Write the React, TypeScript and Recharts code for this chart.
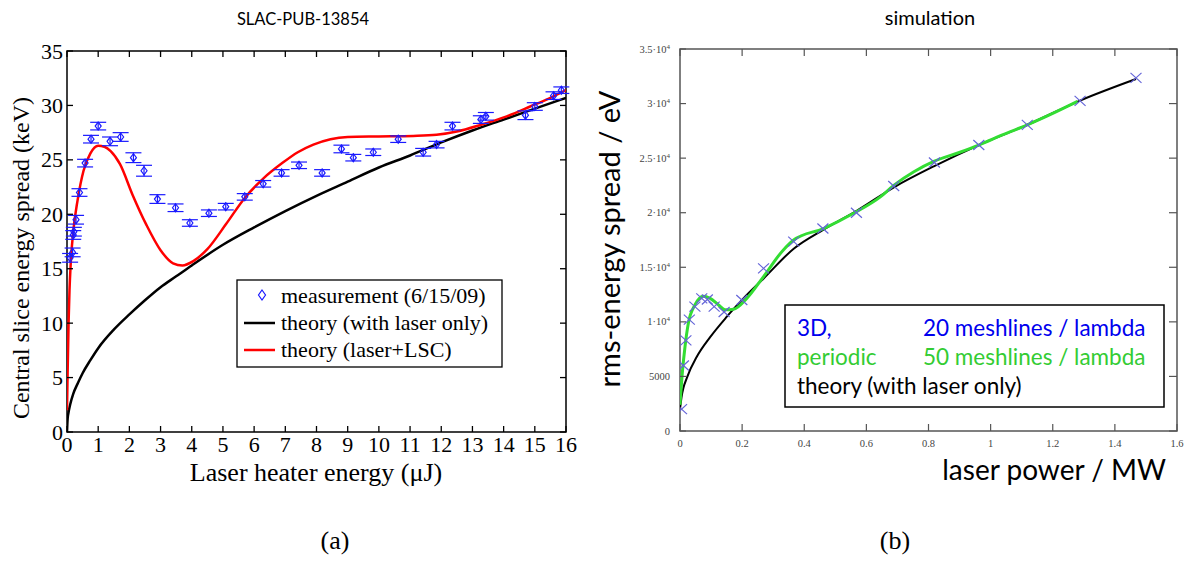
import React from 'react';
import { ComposedChart, Line, Scatter, ErrorBar, XAxis, YAxis, ReferenceArea } from 'recharts';

// ---- (a) SLAC-PUB-13854: measured slice energy spread vs laser heater energy
const measureX = [0.1, 0.18, 0.2, 0.22, 0.29, 0.4, 0.58, 0.77, 1.0, 1.38, 1.72, 2.13, 2.47, 2.9, 3.48, 3.94, 4.55, 5.09, 5.7, 6.29, 6.88, 7.44, 8.18, 8.8, 9.18, 9.82, 10.62, 11.42, 11.85, 12.36, 13.27, 13.43, 14.7, 15.0, 15.6, 15.85];
const measureY = [16.0, 16.5, 18.1, 18.4, 19.5, 22.0, 24.7, 26.9, 28.1, 26.7, 27.1, 25.2, 24.0, 21.4, 20.6, 19.2, 20.1, 20.7, 21.6, 22.8, 23.8, 24.5, 23.8, 26.0, 25.2, 25.7, 26.9, 25.7, 26.4, 28.1, 28.7, 29.0, 29.1, 29.9, 30.9, 31.4];
const measureErr = [0.4, 0.4, 0.4, 0.4, 0.4, 0.35, 0.35, 0.35, 0.35, 0.4, 0.4, 0.45, 0.5, 0.4, 0.35, 0.3, 0.3, 0.3, 0.3, 0.3, 0.3, 0.3, 0.3, 0.35, 0.3, 0.3, 0.3, 0.35, 0.3, 0.35, 0.35, 0.35, 0.4, 0.35, 0.35, 0.3];

const laserOnlyX = [0, 0.02, 0.05, 0.1, 0.2, 0.35, 0.5, 0.75, 1, 1.5, 2, 2.5, 3, 3.5, 4, 5, 6, 7, 8, 9, 10, 11, 12, 13, 14, 15, 16];
const laserOnlyY = [0, 1.2, 1.8, 2.5, 3.5, 4.5, 5.4, 6.6, 7.7, 9.4, 10.8, 12.1, 13.3, 14.3, 15.3, 17.2, 18.8, 20.3, 21.7, 23.0, 24.3, 25.4, 26.6, 27.7, 28.7, 29.7, 30.7];

const lscX = [0, 0.02, 0.05, 0.08, 0.12, 0.2, 0.34, 0.53, 0.75, 1.0, 1.2, 1.4, 1.7, 2.1, 2.55, 3.0, 3.4, 3.7, 4.05, 4.5, 5.1, 5.7, 6.3, 6.9, 7.4, 7.9, 8.45, 9.0, 10.0, 11.1, 11.85, 12.5, 13.25, 14.1, 14.85, 15.5, 16];
const lscY = [2.0, 5.5, 10.0, 13.0, 15.5, 18.4, 21.3, 24.0, 25.6, 26.3, 26.2, 25.8, 24.6, 21.8, 19.0, 16.7, 15.5, 15.3, 15.7, 16.8, 19.1, 21.5, 23.3, 24.7, 25.7, 26.4, 26.9, 27.1, 27.15, 27.2, 27.3, 27.6, 28.2, 29.0, 29.9, 30.7, 31.4];

const energyTicks = [0, 1, 2, 3, 4, 5, 6, 7, 8, 9, 10, 11, 12, 13, 14, 15, 16];
const spreadTicks = [0, 5, 10, 15, 20, 25, 30, 35];

// ---- (b) simulation: rms energy spread vs laser power
const mesh20X = [0.005, 0.011, 0.019, 0.03, 0.048, 0.07, 0.088, 0.11, 0.142, 0.199, 0.269, 0.366, 0.46, 0.568, 0.688, 0.819, 0.962, 1.118, 1.288, 1.468];
const mesh20Y = [2000, 6000, 8300, 10200, 11400, 12150, 12050, 11400, 10900, 12000, 14900, 17350, 18550, 20000, 22450, 24600, 26200, 28050, 30250, 32350];

const mesh50X = [0, 0.008, 0.016, 0.027, 0.048, 0.075, 0.097, 0.124, 0.145, 0.172, 0.215, 0.269, 0.33, 0.366, 0.462, 0.559, 0.645, 0.688, 0.753, 0.817, 0.892, 0.962, 1.04, 1.118, 1.2, 1.28];
const mesh50Y = [2400, 5500, 7700, 9900, 11550, 12350, 12150, 11550, 11100, 11150, 12150, 14150, 16500, 17500, 18550, 19950, 21450, 22500, 23750, 24700, 25450, 26200, 27150, 28050, 29100, 30200];

const theoryX = [0, 0.005, 0.024, 0.054, 0.097, 0.15, 0.204, 0.27, 0.366, 0.462, 0.57, 0.69, 0.817, 0.962, 1.118, 1.29, 1.468];
const theoryY = [2000, 3100, 5000, 6800, 8600, 10450, 12150, 14000, 16700, 18450, 20200, 22350, 24250, 26200, 28050, 30300, 32250];

const powerTicks = [0, 0.2, 0.4, 0.6, 0.8, 1, 1.2, 1.4, 1.6];
const rmsTicks = [0, 5000, 10000, 15000, 20000, 25000, 30000, 35000];

const zip = (xs: number[], ys: number[], es?: number[]) =>
  xs.map((x, i) => ({ x, y: ys[i], err: es ? es[i] : 0 }));

const SERIF = '"Liberation Serif", "Times New Roman", serif';
const SANS = 'Lato, "Open Sans", sans-serif';

// plot boxes
const A_PW = 499;
const A_PH = 381;
const B_PW = 497;
const B_PH = 382;

const energyTick = ({ x, y, payload }: any) => (
  <g>
    <line x1={x} y1={y} x2={x} y2={y - 6} stroke="#000" strokeWidth={1.3} />
    <line x1={x} y1={y - A_PH} x2={x} y2={y - A_PH + 6} stroke="#000" strokeWidth={1.3} />
    <text x={x} y={y + 20} textAnchor="middle" fontFamily={SERIF} fontSize={22} fill="#000">
      {payload.value}
    </text>
  </g>
);

const spreadTick = ({ x, y, payload }: any) => (
  <g>
    <line x1={x} y1={y} x2={x + 6} y2={y} stroke="#000" strokeWidth={1.3} />
    <line x1={x + A_PW} y1={y} x2={x + A_PW - 6} y2={y} stroke="#000" strokeWidth={1.3} />
    <text x={x - 4} y={y + 7.5} textAnchor="end" fontFamily={SERIF} fontSize={22} fill="#000">
      {payload.value}
    </text>
  </g>
);

const powerTick = ({ x, y, payload }: any) => (
  <g>
    <line x1={x} y1={y} x2={x} y2={y - 7} stroke="#555" strokeWidth={1.2} />
    <line x1={x} y1={y - B_PH} x2={x} y2={y - B_PH + 7} stroke="#555" strokeWidth={1.2} />
    <text x={x} y={y + 16} textAnchor="middle" fontFamily={SERIF} fontSize={10.5} fill="#444">
      {payload.value}
    </text>
  </g>
);

const rmsTick = ({ x, y, payload }: any) => {
  const v = payload.value as number;
  const label =
    v === 0 || v === 5000 ? (
      String(v)
    ) : (
      <>
        {`${v / 10000}\u00b710`}
        <tspan dy={-4} fontSize={7}>4</tspan>
      </>
    );
  return (
    <g>
      <line x1={x} y1={y} x2={x + 6} y2={y} stroke="#555" strokeWidth={1.2} />
      <line x1={x + B_PW} y1={y} x2={x + B_PW - 8} y2={y} stroke="#555" strokeWidth={1.2} />
      <text x={x - 10} y={y + 3.5} textAnchor="end" fontFamily={SERIF} fontSize={10.5} fill="#444">
        {label}
      </text>
    </g>
  );
};

const diamond = ({ cx, cy }: any) => (
  <path
    d={`M${cx},${cy - 4} L${cx + 3},${cy} L${cx},${cy + 4} L${cx - 3},${cy} Z`}
    fill="none"
    stroke="#1a1aff"
    strokeWidth={1.2}
  />
);

const cross = ({ cx, cy }: any) => (
  <path
    d={`M${cx - 5.5},${cy - 5} L${cx + 5.5},${cy + 5} M${cx + 5.5},${cy - 5} L${cx - 5.5},${cy + 5}`}
    stroke="#6464d8"
    strokeWidth={1.2}
    fill="none"
  />
);

function PanelA() {
  return (
    <ComposedChart width={600} height={500} margin={{ top: 51, right: 34, bottom: 67, left: 66 }}>
      <XAxis
        type="number"
        dataKey="x"
        domain={[0, 16]}
        ticks={energyTicks}
        interval={0}
        height={1}
        tickSize={0}
        tickMargin={0}
        axisLine={false}
        tick={energyTick}
        allowDataOverflow
      />
      <YAxis
        type="number"
        dataKey="y"
        domain={[0, 35]}
        ticks={spreadTicks}
        interval={0}
        width={1}
        tickSize={0}
        tickMargin={0}
        axisLine={false}
        tick={spreadTick}
        allowDataOverflow
      />
      <ReferenceArea x1={0} x2={16} y1={0} y2={35} fill="none" stroke="#000" strokeWidth={1.5} />
      <Line
        data={zip(laserOnlyX, laserOnlyY)}
        dataKey="y"
        type="monotone"
        stroke="#000"
        strokeWidth={2.5}
        dot={false}
        isAnimationActive={false}
      />
      <Line
        data={zip(lscX, lscY)}
        dataKey="y"
        type="monotone"
        stroke="#ff0000"
        strokeWidth={2.5}
        dot={false}
        isAnimationActive={false}
      />
      <Scatter data={zip(measureX, measureY, measureErr)} shape={diamond} isAnimationActive={false}>
        <ErrorBar dataKey="err" direction="y" width={8} stroke="#1a1aff" strokeWidth={1.2} isAnimationActive={false} />
      </Scatter>
    </ComposedChart>
  );
}

function PanelB() {
  return (
    <ComposedChart width={594} height={500} margin={{ top: 49, right: 17, bottom: 68, left: 79 }}>
      <XAxis
        type="number"
        dataKey="x"
        domain={[0, 1.6]}
        ticks={powerTicks}
        interval={0}
        height={1}
        tickSize={0}
        tickMargin={0}
        axisLine={false}
        tick={powerTick}
        allowDataOverflow
      />
      <YAxis
        type="number"
        dataKey="y"
        domain={[0, 35000]}
        ticks={rmsTicks}
        interval={0}
        width={1}
        tickSize={0}
        tickMargin={0}
        axisLine={false}
        tick={rmsTick}
        allowDataOverflow
      />
      <ReferenceArea x1={0} x2={1.6} y1={0} y2={35000} fill="none" stroke="#555" strokeWidth={1.5} />
      <Line
        data={zip(theoryX, theoryY)}
        dataKey="y"
        type="monotone"
        stroke="#000"
        strokeWidth={2}
        dot={false}
        isAnimationActive={false}
      />
      <Line
        data={zip(mesh50X, mesh50Y)}
        dataKey="y"
        type="monotone"
        stroke="#33dd33"
        strokeWidth={3}
        dot={false}
        isAnimationActive={false}
      />
      <Scatter data={zip(mesh20X, mesh20Y)} shape={cross} isAnimationActive={false} />
    </ComposedChart>
  );
}

export default function App() {
  return (
    <div style={{ position: 'absolute', left: 0, top: 0, width: 1194, height: 561, background: '#fff', overflow: 'hidden' }}>
      <div style={{ position: 'absolute', left: 0, top: 0 }}>
        <PanelA />
      </div>
      <div style={{ position: 'absolute', left: 600, top: 0 }}>
        <PanelB />
      </div>
      <svg width={1194} height={561} style={{ position: 'absolute', left: 0, top: 0, pointerEvents: 'none' }}>
        {/* titles */}
        <text x={303} y={25} textAnchor="middle" fontFamily={SANS} fontSize={16.5} fill="#000">SLAC-PUB-13854</text>
        <text x={930} y={25} textAnchor="middle" fontFamily={SANS} fontSize={20} fill="#000">simulation</text>

        {/* panel (a) axis labels */}
        <text transform="translate(29,258) rotate(-90)" textAnchor="middle" fontFamily={SERIF} fontSize={24} fill="#000">
          Central slice energy spread (keV)
        </text>
        <text x={316} y={481} textAnchor="middle" fontFamily={SERIF} fontSize={26} fill="#000">
          Laser heater energy (μJ)
        </text>

        {/* panel (a) legend */}
        <g transform="translate(237,280)">
          <rect x={0} y={0} width={265} height={87} fill="#fff" stroke="#000" strokeWidth={1.3} />
          <path d="M25,10 L28.5,15 L25,20 L21.5,15 Z" fill="none" stroke="#1a1aff" strokeWidth={1.2} />
          <text x={44} y={23} fontFamily={SERIF} fontSize={22} fill="#000">measurement (6/15/09)</text>
          <line x1={7} y1={43} x2={38} y2={43} stroke="#000" strokeWidth={2.5} />
          <text x={44} y={50} fontFamily={SERIF} fontSize={22} fill="#000">theory (with laser only)</text>
          <line x1={7} y1={70} x2={38} y2={70} stroke="#ff0000" strokeWidth={2.5} />
          <text x={44} y={77} fontFamily={SERIF} fontSize={22} fill="#000">theory (laser+LSC)</text>
        </g>

        {/* panel (b) axis labels */}
        <text transform="translate(620,239) rotate(-90)" textAnchor="middle" fontFamily={SANS} fontSize={29} fill="#000">
          rms-energy spread / eV
        </text>
        <text x={1166} y={480} textAnchor="end" fontFamily={SANS} fontSize={28} fill="#000">
          laser power / MW
        </text>

        {/* panel (b) legend */}
        <g transform="translate(785,305)">
          <rect x={0} y={0} width={379} height={102} fill="#fff" stroke="#000" strokeWidth={1.5} />
          <text x={12} y={31} fontFamily={SANS} fontSize={22.5} fill="#0000ee">3D,</text>
          <text x={138} y={31} fontFamily={SANS} fontSize={22.5} fill="#0000ee">20 meshlines / lambda</text>
          <text x={12} y={60} fontFamily={SANS} fontSize={22.5} fill="#33cc33">periodic</text>
          <text x={138} y={60} fontFamily={SANS} fontSize={22.5} fill="#33cc33">50 meshlines / lambda</text>
          <text x={12} y={89} fontFamily={SANS} fontSize={22.5} fill="#000">theory (with laser only)</text>
        </g>

        {/* captions */}
        <text x={335} y={549} textAnchor="middle" fontFamily={SERIF} fontSize={26} fill="#000">(a)</text>
        <text x={895} y={549} textAnchor="middle" fontFamily={SERIF} fontSize={26} fill="#000">(b)</text>
      </svg>
    </div>
  );
}
